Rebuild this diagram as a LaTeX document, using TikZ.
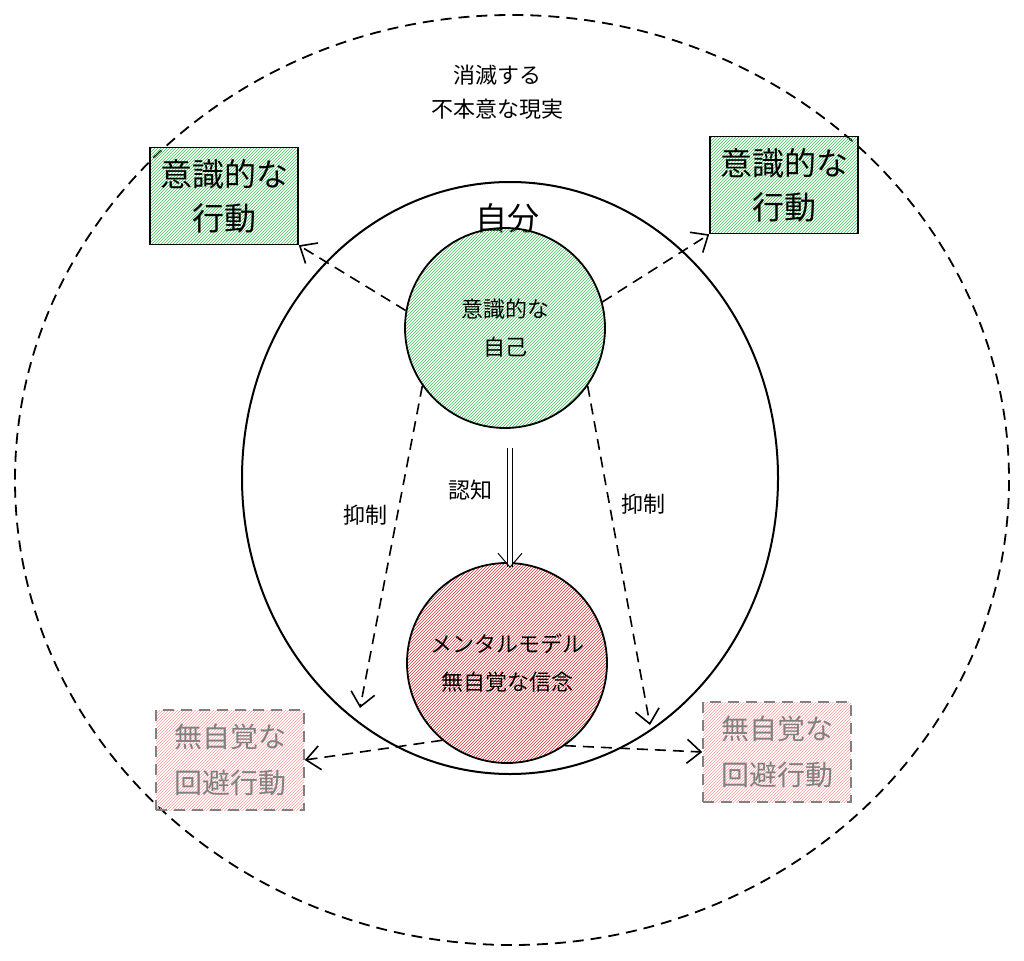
\documentclass[tikz,border=0pt]{standalone}
\usepackage{fontspec}
\setmainfont{Noto Sans CJK JP}
\usetikzlibrary{patterns,arrows.meta}
\definecolor{hgreen}{RGB}{64,192,87}
\definecolor{hred}{RGB}{224,49,49}
\definecolor{hpink}{RGB}{255,160,160}
\tikzset{
  sketchdash/.style={dash pattern=on 11pt off 7pt},
  goodbox/.style={draw=black,line width=1.6pt,pattern=north east lines,pattern color=hgreen,minimum width=148pt,minimum height=97pt,align=center,font=\fontsize{32}{44}\selectfont,inner sep=0pt},
  badbox/.style={draw=gray,line width=1.6pt,sketchdash,pattern=north east lines,pattern color=hpink,minimum width=148pt,minimum height=100pt,align=center,font=\fontsize{28}{46}\selectfont,text=gray,inner sep=0pt},
  arr/.style={-{Straight Barb[length=14pt,width=24pt]}},
  lbl/.style={font=\fontsize{22}{30}\selectfont}
}
\begin{document}
\begin{tikzpicture}[x=1pt,y=-1pt]
    \useasboundingbox (0,0) rectangle (1024,960);
    \draw[sketchdash,line width=1.8pt] (512,480) ellipse [x radius=497,y radius=465];
    \draw[line width=2pt] (510,478) ellipse [x radius=268,y radius=296];
    \node[font=\fontsize{32}{38}\selectfont] (self) at (507,218) {自分};
    \node[lbl,align=center] (reality) at (497,92) {消滅する\\[4pt]不本意な現実};
    %
    \node[circle,draw,line width=1.8pt,minimum size=200pt,pattern=north east lines,pattern color=hgreen,align=center,lbl] (ego) at (505,328) {意識的な\\[8pt]自己};
    \node[circle,draw,line width=1.8pt,minimum size=200pt,pattern=north east lines,pattern color=hred,align=center,lbl] (model) at (507,663) {メンタルモデル\\[8pt]無自覚な信念};
    %
    \node[goodbox] (actL) at (224,196) {意識的な\\行動};
    \node[goodbox] (actR) at (784,185) {意識的な\\行動};
    \node[badbox] (avoidL) at (230,760) {無自覚な\\回避行動};
    \node[badbox] (avoidR) at (777,752) {無自覚な\\回避行動};
    %
    \draw[arr,sketchdash,line width=1.6pt] (ego.170) to (actL.south east);
    \draw[arr,sketchdash,line width=1.6pt] (ego.15) to (actR.south west);
    \draw[arr,sketchdash,line width=1.6pt] (ego.215) to node[lbl,left=6pt,pos=0.4] (inhL) {抑制} (360,708);
    \draw[arr,sketchdash,line width=1.6pt] (ego.-35) to node[lbl,right=8pt,pos=0.35] (inhR) {抑制} (650,725);
    \draw[arr,double,double distance=4pt,line width=1pt] (510,448) to node[lbl,left=14pt,pos=0.35] (cog) {認知} (510,568);
    \draw[arr,sketchdash,line width=1.6pt] (model.230) to (avoidL.east);
    \draw[arr,sketchdash,line width=1.6pt] (model.-55) to (avoidR.west);
\end{tikzpicture}
\end{document}
